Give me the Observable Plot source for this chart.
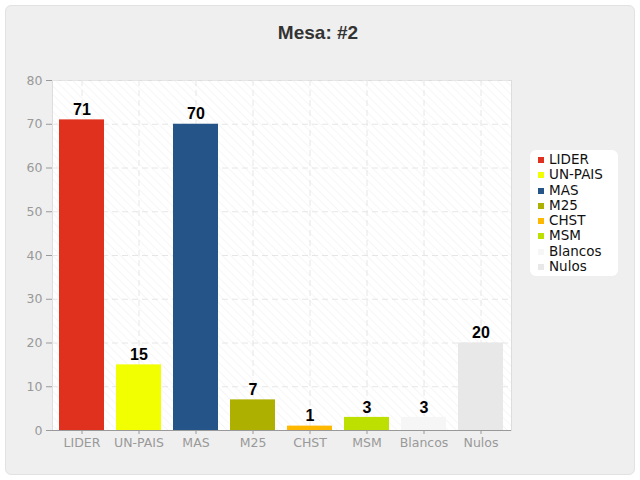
<!DOCTYPE html>
<html>
<head>
<meta charset="utf-8">
<script src="https://cdn.jsdelivr.net/npm/d3@7"></script>
<script src="https://cdn.jsdelivr.net/npm/@observablehq/plot@0.6"></script>
<style>
  html, body { margin: 0; padding: 0; background: #ffffff; width: 640px; height: 480px; overflow: hidden; }
  #panel { position: absolute; left: 5px; top: 5px; width: 628px; height: 468px; background: #efefef;
           border: 1px solid #e2e2e2; border-radius: 6px; }
  #title { position: absolute; left: 0; top: 22px; width: 636px; text-align: center;
           font-family: "Liberation Sans", Arial, sans-serif; font-weight: bold; font-size: 19px; color: #333; }
  #chart { position: absolute; left: 0; top: 0; }
  #legend { position: absolute; left: 530px; top: 150px; width: 88px; height: 126px; background: #fff;
            border-radius: 6px; font-family: "DejaVu Sans", sans-serif; font-size: 13.5px; color: #111;
            padding-top: 2px; box-sizing: border-box; }
  .item { height: 15.3px; line-height: 15.3px; padding-left: 8px; white-space: nowrap; }
  .sw { display: inline-block; width: 6px; height: 6px; margin-right: 5px; vertical-align: 1px; }
</style>
</head>
<body>
<div id="panel"></div>
<div id="title">Mesa: #2</div>
<div id="chart"></div>
<div id="legend"></div>
<script>
const categories = ["LIDER", "UN-PAIS", "MAS", "M25", "CHST", "MSM", "Blancos", "Nulos"];
const values = [71, 15, 70, 7, 1, 3, 3, 20];
const colors = ["#e0301e", "#f2ff00", "#255489", "#aeb000", "#ffb800", "#bde000", "#f6f6f6", "#e8e8e8"];
const yTicks = [0, 10, 20, 30, 40, 50, 60, 70, 80];

const data = categories.map((c, i) => ({ cat: c, value: values[i] }));

const plot = Plot.plot({
  width: 520,
  height: 450,
  marginLeft: 52,
  marginRight: 9,
  marginTop: 80,
  marginBottom: 20,
  style: { background: "transparent", fontFamily: "DejaVu Sans, sans-serif", fontSize: "12px", color: "#999" },
  x: { domain: categories, paddingInner: 0.21, paddingOuter: 0.1, label: null },
  y: { domain: [0, 80], ticks: yTicks, label: null },
  color: { domain: categories, range: colors },
  marks: [
    Plot.frame({ fill: "white", stroke: "#dddddd" }),
    Plot.gridY(yTicks, { stroke: "#e6e6e6", strokeOpacity: 1, strokeDasharray: "6,4" }),
    Plot.gridX(categories, { stroke: "#e6e6e6", strokeOpacity: 1, strokeDasharray: "6,4" }),
    Plot.barY(data, { x: "cat", y: "value", fill: "cat" }),
    Plot.text(data, { x: "cat", y: "value", text: d => String(d.value), dy: -10, fill: "#000",
      fontWeight: "bold", fontSize: 16, fontFamily: "Liberation Sans, Arial, sans-serif" }),
    Plot.axisX({ tickSize: 4, stroke: "#999", fill: "#999", tickPadding: 4, fontSize: 12.5 }),
    Plot.axisY({ ticks: yTicks, tickSize: 6, stroke: "#999", fill: "#999", tickPadding: 4, fontSize: 12.5 }),
    Plot.ruleY([0], { stroke: "#999" }),
    Plot.ruleX([0], { frameAnchor: "left", stroke: "#999" })
  ]
});

// add faint diagonal hatch to plot background
const svg = d3.select(plot);
const defs = svg.insert("defs", ":first-child");
const pat = defs.append("pattern").attr("id", "hatch").attr("patternUnits", "userSpaceOnUse")
  .attr("width", 6).attr("height", 6).attr("patternTransform", "rotate(-45)");
pat.append("rect").attr("width", 6).attr("height", 6).attr("fill", "#ffffff");
pat.append("line").attr("x1", 0).attr("y1", 0).attr("x2", 0).attr("y2", 6)
  .attr("stroke", "#f3f3f3").attr("stroke-width", 1.5);
svg.select("[aria-label=frame]").attr("fill", "url(#hatch)");

document.getElementById("chart").appendChild(plot);

const legend = document.getElementById("legend");
categories.forEach((c, i) => {
  const div = document.createElement("div");
  div.className = "item";
  div.innerHTML = `<span class="sw" style="background:${colors[i]}"></span>${c}`;
  legend.appendChild(div);
});
</script>
</body>
</html>
